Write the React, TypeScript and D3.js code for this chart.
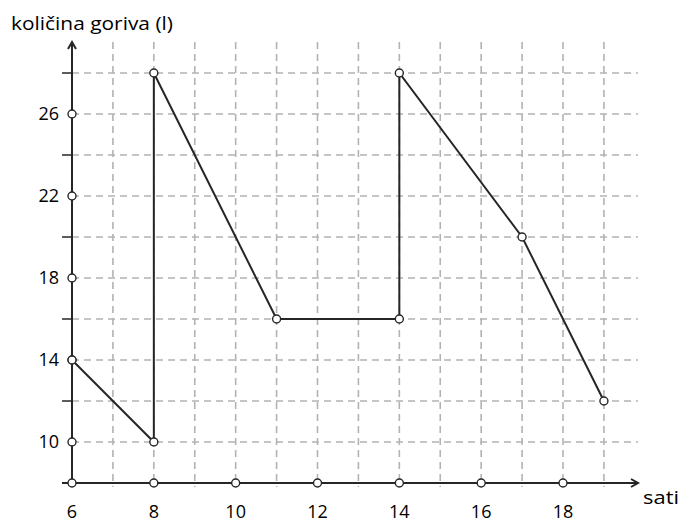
import React from 'react';
import * as d3 from 'd3';

// hours and fuel amounts (litres)
const hours = [6, 8, 8, 11, 14, 14, 17, 19];
const fuel = [14, 10, 28, 16, 16, 28, 20, 12];

const xTickLabels = [6, 8, 10, 12, 14, 16, 18];
const yTickLabels = [10, 14, 18, 22, 26];
const yMinorTicks = [12, 16, 20, 24, 28];
const xGrid = [7, 8, 9, 10, 11, 12, 13, 14, 15, 16, 17, 18, 19];
const yGrid = [10, 12, 14, 16, 18, 20, 22, 24, 26, 28];

const W = 680;
const H = 524;

export default function App() {
  const x = d3.scaleLinear().domain([6, 18]).range([72, 563]);
  const y = d3.scaleLinear().domain([8, 28]).range([483, 73]);

  const pts = hours.map((h, i) => [h, fuel[i]] as [number, number]);
  const line = d3.line<[number, number]>()
    .x(d => x(d[0]))
    .y(d => y(d[1]));

  const x0 = x(6);
  const y0 = y(8);
  const xEnd = 638;
  const yTop = 42;
  const font = '"Open Sans", "DejaVu Sans", sans-serif';
  const grid = '#b3b3b3';
  const ink = '#262626';

  return (
    <svg width={W} height={H} style={{ position: 'absolute', left: 0, top: 0, background: '#fff' }}>
      {/* grid */}
      <g stroke={grid} strokeWidth={1.6} strokeDasharray="7,5" fill="none">
        {xGrid.map(v => (
          <line key={'gx' + v} x1={x(v)} x2={x(v)} y1={yTop} y2={y0 + 4} />
        ))}
        {yGrid.map(v => (
          <line key={'gy' + v} x1={x0} x2={xEnd} y1={y(v)} y2={y(v)} />
        ))}
      </g>

      {/* axes */}
      <g stroke={ink} strokeWidth={2} fill="none">
        <line x1={x0} x2={x0} y1={y0} y2={yTop} />
        <line x1={x0 - 10} x2={xEnd} y1={y0} y2={y0} />
        <polyline points={`${x0 - 4},${yTop + 7} ${x0},${yTop} ${x0 + 4},${yTop + 7}`} />
        <polyline points={`${xEnd - 7},${y0 - 4} ${xEnd},${y0} ${xEnd - 7},${y0 + 4}`} />
        {yMinorTicks.map(v => (
          <line key={'mt' + v} x1={x0 - 10} x2={x0} y1={y(v)} y2={y(v)} strokeWidth={1.5} />
        ))}
      </g>

      {/* axis markers */}
      <g fill="#fff" stroke={ink} strokeWidth={1.4}>
        {xTickLabels.map(v => (
          <circle key={'xc' + v} cx={x(v)} cy={y0} r={4} />
        ))}
        {yTickLabels.map(v => (
          <circle key={'yc' + v} cx={x0} cy={y(v)} r={4} />
        ))}
      </g>

      {/* data line */}
      <path d={line(pts) || ''} fill="none" stroke={ink} strokeWidth={2} />
      <g fill="#fff" stroke={ink} strokeWidth={1.4}>
        {pts.map((d, i) => (
          <circle key={'p' + i} cx={x(d[0])} cy={y(d[1])} r={4} />
        ))}
      </g>

      {/* labels */}
      <g fontFamily={font} fontSize={18} fill="#000">
        {xTickLabels.map(v => (
          <text key={'xl' + v} x={x(v)} y={518} textAnchor="middle">{v}</text>
        ))}
        {yTickLabels.map(v => (
          <text key={'yl' + v} x={59} y={y(v)} dy="0.36em" textAnchor="end">{v}</text>
        ))}
        <text x={643} y={504} textLength={36} lengthAdjust="spacingAndGlyphs">sati</text>
        <text x={11} y={30} fontSize={19} textLength={162} lengthAdjust="spacingAndGlyphs">količina goriva (l)</text>
      </g>
    </svg>
  );
}
